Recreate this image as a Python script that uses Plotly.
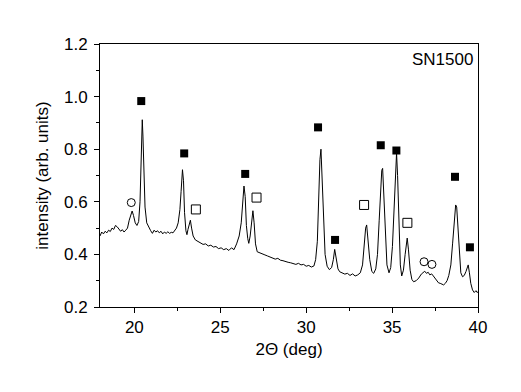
import plotly.graph_objects as go

two_theta = [18.0, 18.1, 18.2, 18.3, 18.4, 18.5, 18.6, 18.7, 18.8, 18.9, 19.0, 19.1, 19.2, 19.3, 19.4, 19.5, 19.6, 19.7, 19.8, 19.87, 19.95,
             20.05, 20.15, 20.25, 20.33, 20.40, 20.46, 20.50, 20.55, 20.62, 20.72, 20.85, 20.95, 21.05, 21.15, 21.25, 21.35, 21.45, 21.55,
             21.65, 21.75, 21.85, 21.95, 22.05, 22.15, 22.25, 22.35, 22.45, 22.55, 22.65, 22.72, 22.80, 22.86, 22.92, 23.00, 23.06, 23.12,
             23.20, 23.26, 23.33, 23.42, 23.55, 23.70, 23.85, 24.00, 24.15, 24.30, 24.45, 24.60, 24.75, 24.90, 25.05, 25.20, 25.35, 25.50,
             25.65, 25.80, 25.95, 26.10, 26.22, 26.30, 26.38, 26.45, 26.52, 26.60, 26.66, 26.74, 26.82, 26.90, 26.97, 27.05, 27.15, 27.30,
             27.45, 27.60, 27.75, 27.90, 28.05, 28.20, 28.35, 28.50, 28.65, 28.80, 28.95, 29.10, 29.25, 29.40, 29.55, 29.70, 29.85, 30.00,
             30.15, 30.30, 30.45, 30.55, 30.65, 30.72, 30.80, 30.86, 30.92, 31.00, 31.10, 31.22, 31.35, 31.48, 31.58, 31.66, 31.74, 31.85,
             31.95, 32.10, 32.25, 32.40, 32.55, 32.70, 32.85, 33.00, 33.15, 33.28, 33.38, 33.46, 33.52, 33.60, 33.70, 33.82, 33.93, 34.05,
             34.15, 34.25, 34.33, 34.40, 34.45, 34.52, 34.60, 34.70, 34.82, 34.92, 35.02, 35.12, 35.20, 35.26, 35.32, 35.40, 35.48, 35.56,
             35.66, 35.76, 35.84, 35.88, 35.95, 36.05, 36.15, 36.25, 36.40, 36.55, 36.70, 36.82, 36.90, 37.00, 37.10, 37.20, 37.30, 37.40,
             37.50, 37.60, 37.70, 37.80, 37.90, 38.00, 38.10, 38.20, 38.30, 38.42, 38.52, 38.62, 38.70, 38.76, 38.84, 38.92, 39.00, 39.10,
             39.20, 39.30, 39.38, 39.43, 39.50, 39.58, 39.68, 39.78, 39.88, 39.95, 40.00]

intensity = [0.470, 0.485, 0.478, 0.488, 0.482, 0.492, 0.487, 0.500, 0.495, 0.510, 0.505, 0.498, 0.488, 0.494, 0.485, 0.492, 0.500, 0.530, 0.555, 0.565, 0.548,
             0.520, 0.510, 0.525, 0.600, 0.780, 0.912, 0.850, 0.700, 0.580, 0.520, 0.500, 0.490, 0.480, 0.492, 0.485, 0.490, 0.482, 0.488,
             0.478, 0.485, 0.480, 0.486, 0.480, 0.484, 0.482, 0.490, 0.500, 0.520, 0.570, 0.640, 0.722, 0.680, 0.560, 0.490, 0.475, 0.495,
             0.520, 0.530, 0.500, 0.470, 0.455, 0.450, 0.445, 0.438, 0.440, 0.432, 0.435, 0.428, 0.430, 0.422, 0.425, 0.418, 0.422, 0.415,
             0.425, 0.418, 0.440, 0.470, 0.520, 0.590, 0.660, 0.620, 0.510, 0.460, 0.442, 0.470, 0.530, 0.566, 0.520, 0.440, 0.410, 0.405,
             0.400, 0.398, 0.394, 0.390, 0.388, 0.382, 0.385, 0.378, 0.376, 0.372, 0.370, 0.368, 0.365, 0.362, 0.366, 0.360, 0.362, 0.355,
             0.358, 0.352, 0.356, 0.380, 0.450, 0.600, 0.760, 0.800, 0.700, 0.520, 0.400, 0.355, 0.342, 0.350, 0.380, 0.419, 0.390, 0.345,
             0.334, 0.330, 0.325, 0.328, 0.320, 0.326, 0.318, 0.322, 0.330, 0.360, 0.440, 0.500, 0.512, 0.460, 0.380, 0.335, 0.328, 0.345,
             0.400, 0.530, 0.650, 0.720, 0.727, 0.620, 0.450, 0.360, 0.330, 0.350, 0.430, 0.600, 0.750, 0.785, 0.700, 0.500, 0.360, 0.318,
             0.340, 0.400, 0.455, 0.462, 0.420, 0.340, 0.305, 0.296, 0.300, 0.310, 0.325, 0.330, 0.336, 0.328, 0.332, 0.322, 0.326, 0.318,
             0.310, 0.300, 0.292, 0.290, 0.286, 0.284, 0.290, 0.300, 0.320, 0.360, 0.440, 0.540, 0.588, 0.580, 0.480, 0.380, 0.330, 0.315,
             0.320, 0.335, 0.355, 0.360, 0.330, 0.290, 0.265, 0.255, 0.262, 0.255, 0.258]

# phase markers
filled_sq_x = [20.40, 22.90, 26.45, 30.69, 31.68, 34.34, 35.25, 38.66, 39.53]
filled_sq_y = [0.983, 0.784, 0.706, 0.883, 0.455, 0.815, 0.795, 0.695, 0.427]
open_sq_x = [23.58, 27.11, 33.37, 35.89]
open_sq_y = [0.571, 0.616, 0.588, 0.520]
circle_x = [19.82, 36.86, 37.32]
circle_y = [0.597, 0.372, 0.362]

x_ticks = [20, 25, 30, 35, 40]
y_ticks = [0.2, 0.4, 0.6, 0.8, 1.0, 1.2]

FONT = "Liberation Sans, Arial, sans-serif"
FS = 17

fig = go.Figure()
fig.add_trace(go.Scatter(x=two_theta, y=intensity, mode="lines",
                         line=dict(color="black", width=1), showlegend=False))
fig.add_trace(go.Scatter(x=filled_sq_x, y=filled_sq_y, mode="markers",
                         marker=dict(symbol="square", size=8, color="black"), showlegend=False))
fig.add_trace(go.Scatter(x=open_sq_x, y=open_sq_y, mode="markers",
                         marker=dict(symbol="square-open", size=9, color="black", line=dict(width=1)), showlegend=False))
fig.add_trace(go.Scatter(x=circle_x, y=circle_y, mode="markers",
                         marker=dict(symbol="circle-open", size=8, color="black", line=dict(width=1)), showlegend=False))

axis_common = dict(showline=True, linecolor="black", linewidth=1, mirror=True,
                   ticks="outside", ticklen=5, tickcolor="black", tickwidth=1,
                   showgrid=False, zeroline=False,
                   tickfont=dict(family=FONT, size=FS, color="black"))

fig.update_xaxes(range=[18, 40], tickvals=x_ticks,
                 minor=dict(dtick=2.5, tick0=17.5, ticks="outside", ticklen=3, tickcolor="black"),
                 title=dict(text="2Θ (deg)", font=dict(family=FONT, size=FS, color="black"), standoff=6),
                 **axis_common)
fig.update_yaxes(range=[0.2, 1.2], tickvals=y_ticks, tickformat=".1f", ticklabelstandoff=3,
                 minor=dict(dtick=0.1, tick0=0.1, ticks="outside", ticklen=3, tickcolor="black"),
                 title=dict(text="intensity (arb. units)", font=dict(family=FONT, size=FS, color="black"), standoff=11),
                 **axis_common)

fig.add_annotation(x=1, y=1, xref="paper", yref="paper", xanchor="right", yanchor="top",
                   xshift=-3, yshift=-4, text="SN1500", showarrow=False,
                   font=dict(family=FONT, size=FS, color="black"))

# the page body adds an 8 px offset, so the figure is sized/margined to place the plot area like the reference
fig.update_layout(width=513, height=384, margin=dict(l=92, r=43, t=36, b=85),
                  plot_bgcolor="white", paper_bgcolor="white")

fig.write_html("out.html")
